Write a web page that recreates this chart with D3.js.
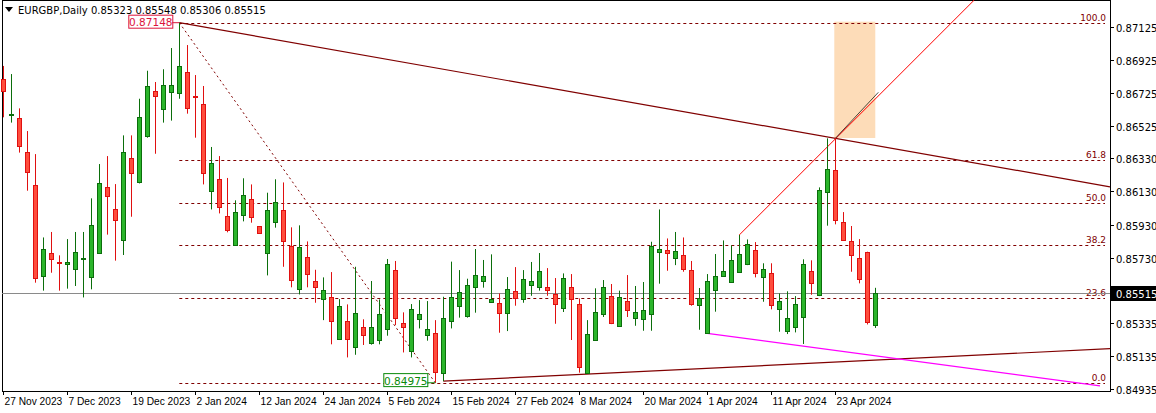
<!DOCTYPE html>
<html><head><meta charset="utf-8">
<script src="https://cdn.jsdelivr.net/npm/d3@7"></script>
<style>body{margin:0;background:#fff}svg{display:block;font-family:"DejaVu Sans",sans-serif}</style>
</head><body><svg id="c" width="1156" height="413"></svg>
<script>
const open_=[.86806,.86589,.86571,.86365,.86166,.85621,.85756,.85704,.85694,.85659,.85724,.85611,.85756,.86154,.86021,.85834,.86329,.86188,.86466,.86736,.86625,.86728,.86722,.86848,.86708,.86655,.86130,.86203,.85979,.85808,.85985,.86082,.85919,.85756,.85943,.86015,.85798,.85541,.85732,.85589,.85478,.85490,.85241,.85345,.85193,.85309,.85213,.85231,.85297,.85653,.85333,.85164,.85360,.85261,.85273,.85032,.85350,.85436,.85376,.85551,.85587,.85464,.85454,.85398,.85527,.85478,.85563,.85555,.85553,.85510,.85424,.85553,.85448,.85032,.85235,.85388,.85496,.85315,.85466,.85364,.85358,.85388,.85762,.85776,.85726,.85744,.85653,.85442,.85273,.85533,.85617,.85585,.85641,.85689,.85776,.85611,.85635,.85418,.85285,.85313,.85370,.85647,.85502,.86126,.86257,.85943,.85828,.85726,.85766,.85323];
const high_=[.86887,.86838,.86631,.86494,.86355,.85852,.85885,.85744,.85842,.85885,.85885,.86088,.86295,.86343,.86174,.86468,.86468,.86689,.86858,.86790,.86867,.86995,.87148,.87013,.86832,.86766,.86398,.86343,.86211,.86076,.86209,.86172,.85919,.86122,.86203,.86184,.85913,.85925,.85828,.85657,.85611,.85643,.85480,.85448,.85675,.85358,.85589,.85478,.85722,.85710,.85400,.85450,.85474,.85468,.85353,.85494,.85706,.85655,.85603,.85782,.85716,.85750,.85514,.85613,.85673,.85655,.85704,.85758,.85667,.85607,.85635,.85631,.85484,.85353,.85545,.85595,.85571,.85531,.85625,.85559,.85583,.85826,.86021,.85846,.85885,.85852,.85710,.85547,.85631,.85752,.85834,.85804,.85867,.85840,.85824,.85696,.85696,.85514,.85527,.85498,.85720,.85714,.86154,.86450,.86450,.86005,.85921,.85842,.85766,.85548];
const low_=[.86577,.86545,.86364,.86134,.85579,.85531,.85639,.85531,.85543,.85559,.85490,.85539,.85756,.85869,.85712,.85746,.85977,.86178,.86454,.86357,.86545,.86557,.86689,.86599,.86454,.86172,.86021,.85997,.85883,.85802,.85949,.85941,.85877,.85623,.85911,.85675,.85551,.85508,.85551,.85458,.85353,.85207,.85233,.85128,.85144,.85203,.85205,.85207,.85259,.85323,.85158,.85128,.85303,.85229,.84975,.84985,.85303,.85368,.85368,.85398,.85549,.85462,.85277,.85287,.85440,.85458,.85500,.85531,.85500,.85331,.85402,.85233,.85036,.85028,.85229,.85372,.85329,.85315,.85372,.85319,.85289,.85289,.85573,.85651,.85685,.85645,.85440,.85295,.85273,.85404,.85615,.85583,.85641,.85685,.85611,.85464,.85418,.85283,.85269,.85279,.85209,.85506,.85498,.85923,.85931,.85834,.85645,.85575,.85327,.85306];
const close_=[.86738,.86595,.86406,.86249,.85605,.85780,.85724,.85700,.85702,.85762,.85728,.85925,.86178,.86104,.85955,.86365,.86239,.86577,.86764,.86708,.86770,.86770,.86885,.86631,.86697,.86239,.86299,.86034,.85895,.86003,.86106,.85973,.85877,.86015,.86064,.85828,.85595,.85792,.85629,.85551,.85533,.85345,.85436,.85237,.85394,.85261,.85309,.85388,.85689,.85364,.85309,.85418,.85390,.85297,.85038,.85364,.85490,.85520,.85563,.85623,.85617,.85478,.85398,.85539,.85484,.85599,.85587,.85647,.85533,.85448,.85605,.85478,.85072,.85267,.85400,.85553,.85337,.85490,.85414,.85404,.85412,.85798,.85780,.85756,.85768,.85661,.85452,.85486,.85587,.85617,.85647,.85716,.85750,.85810,.85635,.85659,.85442,.85466,.85364,.85448,.85689,.85579,.86136,.86263,.85957,.85834,.85744,.85599,.85339,.85515];
const dateLabels=["27 Nov 2023","7 Dec 2023","19 Dec 2023","2 Jan 2024","12 Jan 2024","24 Jan 2024","5 Feb 2024","15 Feb 2024","27 Feb 2024","8 Mar 2024","20 Mar 2024","1 Apr 2024","11 Apr 2024","23 Apr 2024"];
const dateIdx=[0,8,16,24,32,40,48,56,64,72,80,88,96,104];
const priceTicks=[0.87125,0.86925,0.86725,0.86525,0.86330,0.86130,0.85930,0.85730,0.85335,0.85135,0.84935];
const fibLevels=[0,23.6,38.2,50,61.8,100];
const fibLabels=["0.0","23.6","38.2","50.0","61.8","100.0"];
const fibLow=0.84975, fibHigh=0.87148, fibHighIdx=22, fibLowIdx=54;
const lastPrice=0.85515;

const svg=d3.select("#c");
const W=1110,B=391;
const x=d3.scaleLinear().domain([0,109]).range([3.3,875.3]);
const y=d3.scaleLinear().domain([0.84935,0.87125]).range([389.4,26.5]);
const dr="#800000";
svg.append("rect").attr("x",2.5).attr("y",0.5).attr("width",W-2).attr("height",B).attr("fill","none").attr("stroke","#000");
svg.append("rect").attr("x",x(104)-1).attr("y",y(0.87148)-1).attr("width",41).attr("height",y(0.86452)-y(0.87148)+1).attr("fill","#fddcb8");
fibLevels.forEach((l,i)=>{const p=fibLow+(fibHigh-fibLow)*l/100;const yy=Math.round(y(p))+0.5;
 svg.append("line").attr("x1",x(fibHighIdx)).attr("x2",1105).attr("y1",yy).attr("y2",yy).attr("stroke",dr).attr("stroke-dasharray","3,3");
 svg.append("text").attr("x",1106).attr("y",yy-3).attr("text-anchor","end").attr("font-size",9).attr("fill",dr).text(fibLabels[i]);});
svg.append("line").attr("x1",x(fibHighIdx)).attr("y1",y(fibHigh)).attr("x2",x(fibLowIdx)).attr("y2",y(fibLow)).attr("stroke",dr).attr("stroke-dasharray","2,3");
const cy=Math.round(y(lastPrice))+0.5;
svg.append("line").attr("x1",2).attr("x2",W).attr("y1",cy).attr("y2",cy).attr("stroke","#8a8a8a");
function ext(i1,p1,i2,p2,xe){const x1=x(i1),y1=y(p1),x2=x(i2),y2=y(p2);const s=(y2-y1)/(x2-x1);return [x1,y1,xe,y1+s*(xe-x1)];}
function ln(a,c,w){svg.append("line").attr("x1",a[0]).attr("y1",a[1]).attr("x2",a[2]).attr("y2",a[3]).attr("stroke",c).attr("stroke-width",w||1);}
ln(ext(22,fibHigh,104,0.86450,W),dr,1.2);
ln(ext(55,0.84985,104,0.85100,W),dr,1.2);
ln(ext(88,0.85273,97,0.85215,1100),"#ff00ff",1.2);
ln([x(92),y(0.85867),x(92)+235,y(0.85867)-235],"#ff0000",1);
ln([x(104),y(0.86450),x(109)+3,y(0.86450)-46],"#000",0.7);
const data=open_.map((o,i)=>({i,o,h:high_[i],l:low_[i],c:close_[i]}));
const g=svg.append("g");
data.forEach(d=>{const up=d.c>=d.o;const cx=Math.round(x(d.i))+0.5;const st=up?"#0b6e0b":"#e01010",fi=up?"#2bb52b":"#ff4d3d";
 g.append("line").attr("x1",cx).attr("x2",cx).attr("y1",y(d.h)).attr("y2",y(d.l)).attr("stroke",st);
 const t=Math.round(y(Math.max(d.o,d.c))),b=Math.round(y(Math.min(d.o,d.c)));
 if(b-t<1){g.append("line").attr("x1",cx-2.5).attr("x2",cx+2.5).attr("y1",t+0.5).attr("y2",t+0.5).attr("stroke",st);}
 else g.append("rect").attr("x",cx-2).attr("y",t+0.5).attr("width",4).attr("height",b-t).attr("fill",fi).attr("stroke",st);});
function box(txt,xr,p,col,anchorRight){const yy=y(p);const w=44;const x0=anchorRight?xr-w:xr;
 svg.append("rect").attr("x",x0+0.5).attr("y",yy-7.5).attr("width",w).attr("height",13).attr("fill","#fff").attr("stroke",col);
 svg.append("text").attr("x",x0+w/2+0.5).attr("y",yy+3.5).attr("text-anchor","middle").attr("font-size",10.5).attr("fill",col).text(txt);}
box("0.87148",x(fibHighIdx)-7,fibHigh,"#dc143c",true);
svg.append("line").attr("x1",x(fibHighIdx)-7).attr("x2",x(fibHighIdx)).attr("y1",y(fibHigh)).attr("y2",y(fibHigh)).attr("stroke","#dc143c");
box("0.84975",x(fibLowIdx)-52,fibLow+0.00010,"#0a8a0a",false);
svg.append("line").attr("x1",x(fibLowIdx)-8).attr("x2",x(fibLowIdx)).attr("y1",y(fibLow)).attr("y2",y(fibLow)).attr("stroke","#0a8a0a");
priceTicks.forEach(p=>{const yy=Math.round(y(p))+0.5;
 svg.append("line").attr("x1",W).attr("x2",W+4).attr("y1",yy).attr("y2",yy).attr("stroke","#000");
 svg.append("text").attr("x",W+6).attr("y",yy+4).attr("font-size",10).attr("fill","#000").text(p.toFixed(5));});
svg.append("rect").attr("x",W+1).attr("y",cy-7.5).attr("width",45).attr("height",15).attr("fill","#000");
svg.append("text").attr("x",W+6).attr("y",cy+4).attr("font-size",10).attr("fill","#fff").text(lastPrice.toFixed(5));
dateIdx.forEach((di,k)=>{const xx=Math.round(x(di))+0.5;
 svg.append("line").attr("x1",xx).attr("x2",xx).attr("y1",B).attr("y2",B+4).attr("stroke","#000");
 svg.append("text").attr("x",xx+1).attr("y",B+14).attr("font-family","Liberation Sans, Arial, sans-serif").attr("font-size",10.2).attr("fill","#000").text(dateLabels[k]);});
svg.append("path").attr("d","M5,7 L13,7 L9,12 Z").attr("fill","#000");
svg.append("text").attr("x",18).attr("y",14).attr("font-size",10).attr("fill","#000").text("EURGBP,Daily  0.85323 0.85548 0.85306 0.85515");
</script></body></html>
